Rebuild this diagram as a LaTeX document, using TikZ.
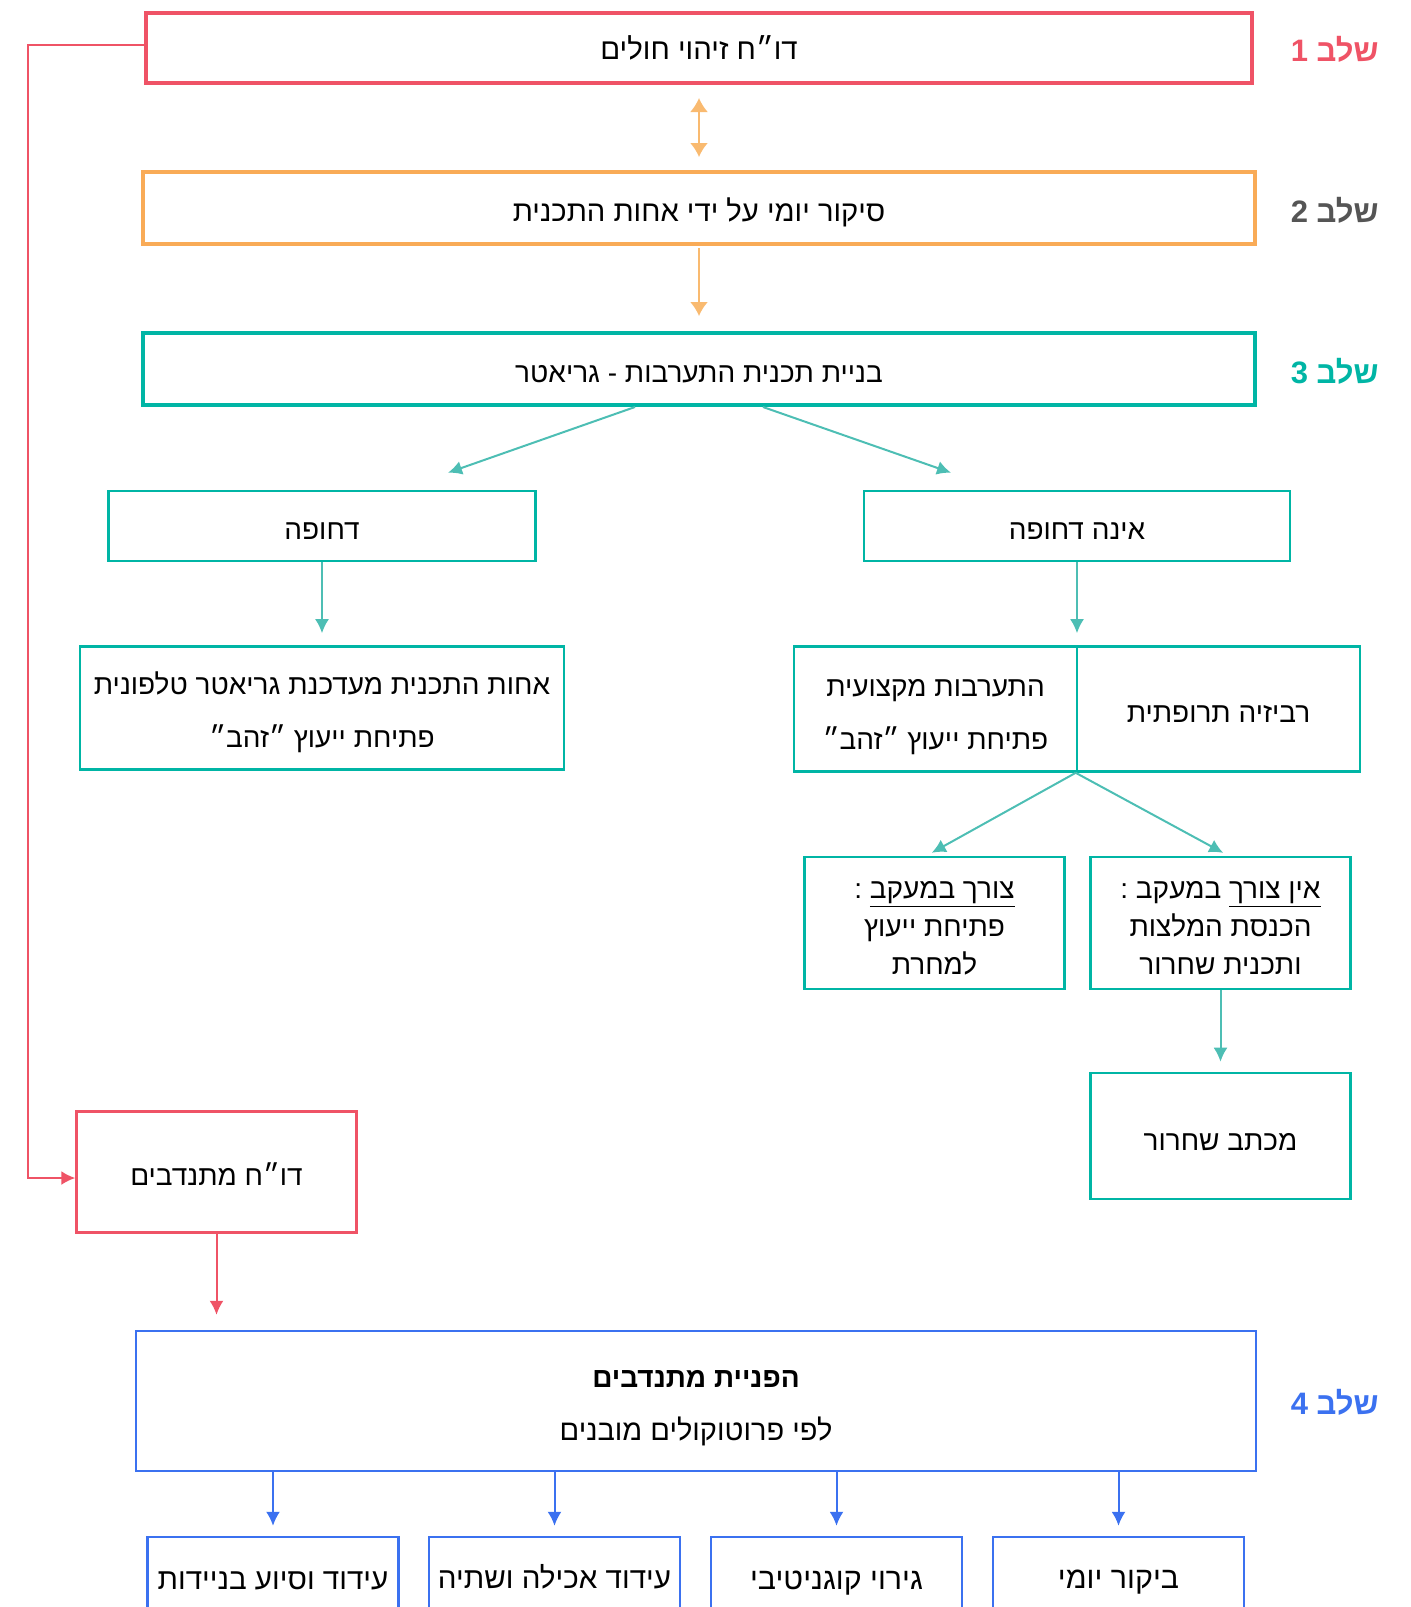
\documentclass[tikz,border=0pt]{standalone}
\usepackage{fontspec}
\setmainfont{Liberation Sans}
\newfontfamily\hebfont[Script=Hebrew]{Liberation Sans}
\TeXXeTstate=1
\usepackage{xcolor}
\usetikzlibrary{arrows.meta,positioning}
\definecolor{stepred}{HTML}{EF5366}
\definecolor{steporange}{HTML}{F9AB57}
\definecolor{lightorange}{HTML}{F9BA70}
\definecolor{stepteal}{HTML}{00B5A5}
\definecolor{lightteal}{HTML}{4DBEB4}
\definecolor{stepblue}{HTML}{3B71F0}
\definecolor{stepgray}{HTML}{555555}
\newcommand{\heb}[1]{{\hebfont\beginR #1\endR}}
\newcommand{\hebul}[1]{\underline{\beginR #1\endR}}
\newcommand{\topgap}[1]{\rule{0pt}{#1}}

\begin{document}
\begin{tikzpicture}[x=0.5pt,y=-0.5pt,font=\fontsize{14}{17}\selectfont,
  stagebox/.style={draw=#1,line width=2pt,inner sep=0pt,text depth=0pt,align=center},
  tealbox/.style={draw=stepteal,line width=1.3pt,inner sep=0pt,text depth=0pt,align=center},
  bluebox/.style={draw=stepblue,line width=1.2pt,inner sep=0pt,text depth=0pt,align=center},
  stagelabel/.style={anchor=east,inner sep=0pt,text=#1,font=\fontsize{15.5}{19}\selectfont\bfseries},
  tip/.style={-{Latex[length=7pt,width=7pt]}}]
	\useasboundingbox (0,0) rectangle (1411,1607);
	\clip (0,0) rectangle (1411,1607);
	% stage boxes
	\node[stagebox=stepred,minimum width=553pt,minimum height=35pt,font=\fontsize{14.7}{17}\selectfont] (s1) at (699,48) {\heb{דו״ח זיהוי חולים}};
	\node[stagebox=steporange,minimum width=556pt,minimum height=36pt,font=\fontsize{14.6}{17}\selectfont,text height=13pt] (s2) at (699,208) {\heb{סיקור יומי על ידי אחות התכנית}};
	\node[stagebox=stepteal,minimum width=556pt,minimum height=36pt,text height=13.6pt] (s3) at (699,369) {\heb{בניית תכנית התערבות - גריאטר}};
	\node[stagelabel=stepred] (l1) at (1379,49) {\heb{שלב 1}};
	\node[stagelabel=stepgray] (l2) at (1379,210) {\heb{שלב 2}};
	\node[stagelabel=stepteal] (l3) at (1379,371) {\heb{שלב 3}};
	\node[stagelabel=stepblue] (l4) at (1379,1402) {\heb{שלב 4}};
	% urgent / not urgent
	\node[tealbox,minimum width=213.5pt,minimum height=35pt,text height=13.6pt] (urgent) at (322,526) {\heb{דחופה}};
	\node[tealbox,minimum width=213pt,minimum height=35pt,text height=13.6pt] (nonurgent) at (1077,526) {\heb{אינה דחופה}};
	\node[tealbox,minimum width=242pt,minimum height=61.5pt,font=\fontsize{14}{26.5}\selectfont] (phone) at (322,708)
		{\heb{\topgap{13pt}אחות התכנית מעדכנת גריאטר טלפונית}\\\heb{פתיחת ייעוץ ״זהב״}};
	\node[tealbox,minimum width=141.5pt,minimum height=62.5pt,font=\fontsize{14}{26.5}\selectfont] (medleft) at (935.5,709)
		{\heb{\topgap{14pt}התערבות מקצועית}\\\heb{פתיחת ייעוץ ״זהב״}};
	\node[tealbox,minimum width=141.5pt,minimum height=62.5pt,text height=13.6pt] (medright) at (1218.5,709) {\heb{רביזיה תרופתית}};
	\node[tealbox,minimum width=130pt,minimum height=66pt,font=\fontsize{14}{19}\selectfont] (followyes) at (934.5,923)
		{\heb{\topgap{13.5pt}\hebul{צורך במעקב} :}\\\heb{פתיחת ייעוץ}\\\heb{למחרת}};
	\node[tealbox,minimum width=130pt,minimum height=66pt,font=\fontsize{14}{19}\selectfont] (followno) at (1220.5,923)
		{\heb{\topgap{13.5pt}\hebul{אין צורך} במעקב :}\\\heb{הכנסת המלצות}\\\heb{ותכנית שחרור}};
	\node[tealbox,minimum width=130pt,minimum height=63pt,text height=14.4pt] (letter) at (1220.5,1136) {\heb{מכתב שחרור}};
	% volunteers
	\node[draw=stepred,line width=1.2pt,text height=13.6pt,text depth=0pt,minimum width=140pt,minimum height=60.5pt] (volreport) at (216.5,1172) {\heb{דו״ח מתנדבים}};
	\node[bluebox,minimum width=560pt,minimum height=70pt,font=\fontsize{14.5}{26.5}\selectfont] (s4) at (696,1401)
		{\heb{\topgap{12.5pt}\fontsize{14}{26.5}\selectfont\textbf{הפניית מתנדבים}}\\\heb{לפי פרוטוקולים מובנים}};
	\node[bluebox,minimum width=125.5pt,minimum height=39pt,font=\fontsize{14.8}{17}\selectfont,text height=13pt] (b1) at (273,1576) {\heb{עידוד וסיוע בניידות}};
	\node[bluebox,minimum width=125.5pt,minimum height=39pt,font=\fontsize{14.8}{17}\selectfont,text height=12pt] (b2) at (554.5,1576) {\heb{עידוד אכילה ושתיה}};
	\node[bluebox,minimum width=125.5pt,minimum height=39pt,font=\fontsize{15.2}{17}\selectfont,text height=13pt] (b3) at (836.5,1576) {\heb{גירוי קוגניטיבי}};
	\node[bluebox,minimum width=125.5pt,minimum height=39pt,font=\fontsize{15.2}{17}\selectfont,text height=12pt] (b4) at (1118.5,1576) {\heb{ביקור יומי}};
	% connectors
	\draw[{Latex[length=7pt,width=9pt]}-{Latex[length=7pt,width=9pt]},lightorange,line width=1pt,shorten <=6.5pt,shorten >=6.5pt] (s1.south) -- (s2.north);
	\draw[-{Latex[length=7pt,width=9pt]},lightorange,line width=1pt,shorten <=1pt,shorten >=7.5pt] (s2.south) -- (s3.north);
	\draw[tip,lightteal,line width=1pt] ([xshift=-32pt]s3.south) -- ([xshift=63pt,yshift=8.5pt]urgent.north);
	\draw[tip,lightteal,line width=1pt] ([xshift=32pt]s3.south) -- ([xshift=-63pt,yshift=8.5pt]nonurgent.north);
	\draw[tip,lightteal,line width=1pt,shorten >=6pt] (urgent.south) -- (phone.north);
	\draw[tip,lightteal,line width=1pt,shorten >=6pt] (nonurgent.south) -- (nonurgent.south |- medright.north);
	\draw[tip,lightteal,line width=1pt,shorten >=3pt] (medright.south west) -- ([xshift=-4pt]followyes.north);
	\draw[tip,lightteal,line width=1pt,shorten >=3pt] (medright.south west) -- ([xshift=4pt]followno.north);
	\draw[tip,lightteal,line width=1pt,shorten >=5pt] (followno.south) -- (letter.north);
	\draw[tip,stepred,line width=1pt] ([yshift=1.5pt]s1.west) -- ++(-116,0) |- ([yshift=-3pt]volreport.west);
	\draw[tip,stepred,line width=1pt,shorten >=7.5pt] (volreport.south) -- (volreport.south |- s4.north);
	\foreach \b in {b1,b2,b3,b4}
		\draw[tip,stepblue,line width=1pt,shorten >=5pt] (s4.south -| \b.north) -- (\b.north);
\end{tikzpicture}
\end{document}
